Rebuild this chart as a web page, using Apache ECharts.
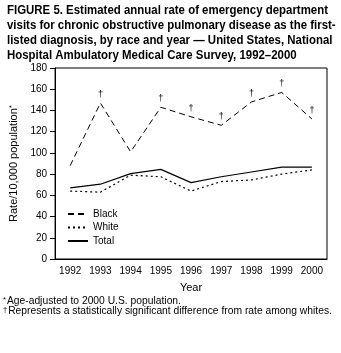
<!DOCTYPE html>
<html><head><meta charset="utf-8">
<script src="https://cdn.jsdelivr.net/npm/echarts@6/dist/echarts.min.js"></script>
<style>html,body{margin:0;padding:0;background:#fff}#c{width:341px;height:353px}</style>
</head><body><div id="c"></div>
<script>
const years = ['1992','1993','1994','1995','1996','1997','1998','1999','2000'];
const black = [88, 147, 101, 143, 134, 126, 148, 157, 132];
const white = [64, 63, 79, 77.5, 64, 73, 74.5, 80, 84];
const total = [67, 70.5, 80.5, 84.5, 72, 77.5, 82, 86.5, 86.5];
const significant = [false, true, false, true, true, true, true, true, true];
const yTicks = [0, 20, 40, 60, 80, 100, 120, 140, 160, 180];

const F = '"Liberation Sans", Arial, Helvetica, sans-serif';
const chart = echarts.init(document.getElementById('c'), null, {renderer: 'canvas'});
chart.setOption({
  animation: false,
  backgroundColor: '#fff',
  textStyle: {fontFamily: F, color: '#000'},
  grid: {left: 50, right: 14, top: 68, bottom: 94, show: true, borderColor: '#000', borderWidth: 1, backgroundColor: 'transparent'},
  graphic: [
    {type: 'text', x: 7, y: 3, scaleX: 0.915, originX: 0, originY: 0, style: {
      x: 0, y: 0,
      text: 'FIGURE 5. Estimated annual rate of emergency department\nvisits for chronic obstructive pulmonary disease as the first-\nlisted diagnosis, by race and year — United States, National\nHospital Ambulatory Medical Care Survey, 1992–2000',
      font: 'bold 12.5px ' + F, fill: '#000', lineHeight: 15}},
    {type: 'text', left: 3, top: 296, style: {
      text: '{s|*}{t|Age-adjusted to 2000 U.S. population.}\n{s|†}{t|Represents a statistically significant difference from rate among whites.}',
      fill: '#000', lineHeight: 10,
      rich: {s: {fontSize: 7.5, fontFamily: F, verticalAlign: 'top', lineHeight: 10, padding: [0,1,4,0]}, t: {fontSize: 10.3, fontFamily: F, lineHeight: 10}}}}
  ],
  legend: {
    orient: 'vertical', left: 62, top: 204, itemWidth: 20, itemHeight: 8, itemGap: 3.5,
    itemStyle: {opacity: 0},
    textStyle: {fontSize: 10, fontFamily: F, color: '#000'},
    data: ['Black', 'White', 'Total']
  },
  xAxis: {
    type: 'category', data: years, boundaryGap: true,
    name: 'Year', nameLocation: 'middle', nameGap: 23,
    nameTextStyle: {fontSize: 11, fontFamily: F, color: '#000'},
    axisLine: {lineStyle: {color: '#000', width: 1}},
    axisTick: {alignWithLabel: true, length: 4, lineStyle: {color: '#000'}},
    axisLabel: {fontSize: 10, color: '#000', margin: 7, fontFamily: F}
  },
  yAxis: {
    type: 'value', min: 0, max: 180, interval: 20,
    name: '{a|Rate/10,000 population}{s|*}', nameLocation: 'middle', nameGap: 21, nameRotate: 90,
    nameTextStyle: {rich: {a: {fontSize: 11, fontFamily: F, color: '#000'}, s: {fontSize: 8, fontFamily: F, color: '#000', verticalAlign: 'top', padding: [0,0,4,0]}}},
    axisLine: {show: true, lineStyle: {color: '#000', width: 1}},
    axisTick: {show: true, length: 5, lineStyle: {color: '#000'}},
    splitLine: {show: false},
    axisLabel: {fontSize: 10, color: '#000', margin: 8, fontFamily: F,
      formatter: v => yTicks.includes(v) ? String(v) : ''}
  },
  series: [
    {name: 'Black', type: 'line', data: black, symbol: 'circle', symbolSize: 0, color: '#000',
     lineStyle: {color: '#000', width: 1, type: [6, 4]},
     label: {show: true, position: 'top', distance: 4, fontSize: 9, color: '#000', fontFamily: F,
       formatter: p => significant[p.dataIndex] ? '†' : ''}},
    {name: 'White', type: 'line', data: white, symbol: 'none', color: '#000',
     lineStyle: {color: '#000', width: 1.2, type: [2, 3]}},
    {name: 'Total', type: 'line', data: total, symbol: 'none', color: '#000',
     lineStyle: {color: '#000', width: 1.2, type: 'solid'}}
  ]
});
</script></body></html>
